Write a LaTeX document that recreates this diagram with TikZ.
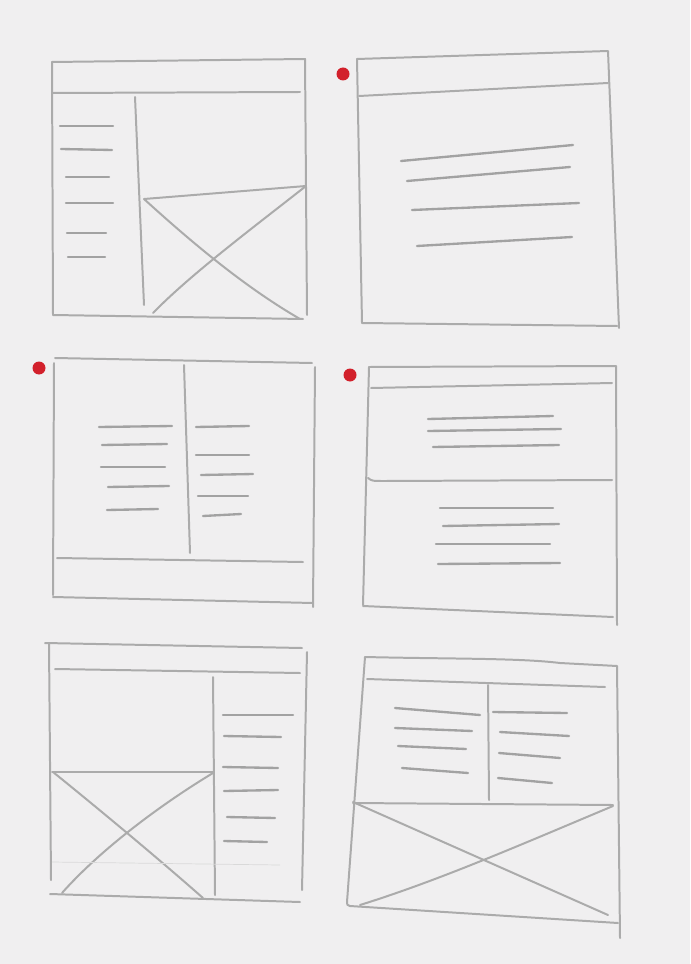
\documentclass[tikz,border=0pt]{standalone}
\usepackage{tikz}
\usetikzlibrary{calc}
\definecolor{paper}{HTML}{F0EFF0}
\definecolor{pencilgray}{HTML}{ABABAB}
\definecolor{textgray}{HTML}{A2A2A2}
\definecolor{markred}{HTML}{D2202B}
\tikzset{
  pencil/.style={draw=pencilgray, line width=1.7pt, line cap=round, line join=round},
  textline/.style={draw=textgray, line width=2pt, line cap=round},
  faint/.style={draw=pencilgray!45, line width=0.6pt},
  reddot/.style={fill=markred}
}
\begin{document}
\begin{tikzpicture}[x=0.03cm, y=-0.03cm]
% paper
\fill[paper] (0,0) rectangle (690,964);
\useasboundingbox (0,0) rectangle (690,964);

% red marks
\fill[reddot] (343,74) circle (6.5);
\fill[reddot] (39,368) circle (6.5);
\fill[reddot] (350,375) circle (6.5);

% sketch 1: header, sidebar, image
\draw[pencil] (52,62) -- (305,59) -- (307,315);
\draw[pencil] (52,62) -- (53,315) -- (303,319);
\draw[pencil] (53,93) -- (300,92);
\draw[pencil] (135,97) -- (144,305);
\draw[pencil] (144,199) -- (306,186);
\draw[pencil] (144,199) .. controls (200,250) and (250,290) .. (300,319);
\draw[pencil] (306,186) .. controls (250,230) and (190,275) .. (153,313);
\draw[textline] (60,126) -- (113,126);
\draw[textline] (61,149) -- (112,150);
\draw[textline] (66,177) -- (109,177);
\draw[textline] (66,203) -- (113,203);
\draw[textline] (67,233) -- (106,233);
\draw[textline] (68,257) -- (105,257);

% sketch 2: header, centred text
\draw[pencil] (357,59) -- (608,51) -- (619,328);
\draw[pencil] (357,59) -- (362,323) -- (617,326);
\draw[pencil] (359,96) -- (608,83);
\draw[textline] (401,161) -- (573,145);
\draw[textline] (407,181) -- (570,167);
\draw[textline] (412,210) -- (579,203);
\draw[textline] (417,246) -- (572,237);

% sketch 3: two columns, footer
\draw[pencil] (55,358) -- (312,363);
\draw[pencil] (54,363) -- (53,595);
\draw[pencil] (315,367) -- (313,607);
\draw[pencil] (53,597) -- (313,603);
\draw[pencil] (57,558) -- (303,562);
\draw[pencil] (184,365) -- (190,553);
\draw[textline] (99,427) -- (172,426);
\draw[textline] (102,445) -- (167,444);
\draw[textline] (101,467) -- (165,467);
\draw[textline] (108,487) -- (169,486);
\draw[textline] (107,510) -- (158,509);
\draw[textline] (196,427) -- (249,426);
\draw[textline] (196,455) -- (249,455);
\draw[textline] (201,475) -- (253,474);
\draw[textline] (198,496) -- (248,496);
\draw[textline] (203,516) -- (241,514);

% sketch 4: header, two stacked blocks
\draw[pencil] (369,367) -- (616,366) -- (617,625);
\draw[pencil] (369,367) -- (363,605);
\draw[pencil] (363,606) -- (613,617);
\draw[pencil] (371,388) -- (612,383);
\draw[pencil] (368,478) .. controls (372,481) .. (385,481) -- (612,480);
\draw[textline] (428,419) -- (553,416);
\draw[textline] (428,431) -- (561,429);
\draw[textline] (433,447) -- (559,445);
\draw[textline] (440,508) -- (553,508);
\draw[textline] (443,526) -- (559,524);
\draw[textline] (436,544) -- (550,544);
\draw[textline] (438,564) -- (560,563);

% sketch 5: header, image, right sidebar
\draw[pencil] (45,643) -- (302,648);
\draw[pencil] (49,643) -- (51,880);
\draw[pencil] (307,652) -- (302,890);
\draw[pencil] (50,894) -- (300,902);
\draw[pencil] (55,669) -- (300,673);
\draw[pencil] (213,677) -- (215,895);
\draw[pencil] (52,772) -- (213,772);
\draw[pencil] (53,772) .. controls (100,810) and (160,860) .. (203,898);
\draw[pencil] (213,773) .. controls (160,805) and (100,850) .. (62,893);
\draw[faint] (52,862) -- (280,865);
\draw[textline] (223,715) -- (293,715);
\draw[textline] (224,736) -- (281,737);
\draw[textline] (223,767) -- (278,768);
\draw[textline] (224,791) -- (278,790);
\draw[textline] (227,817) -- (275,818);
\draw[textline] (224,841) -- (267,842);

% sketch 6: header, two columns, wide image
\draw[pencil] (365,657) .. controls (450,659) and (520,658) .. (560,663) -- (617,666) -- (620,938);
\draw[pencil] (365,657) -- (347,902) .. controls (347,905) .. (350,906) -- (618,923);
\draw[pencil] (367,679) -- (605,687);
\draw[pencil] (488,685) -- (489,800);
\draw[pencil] (353,803) -- (613,805);
\draw[pencil] (353,802) -- (608,915);
\draw[pencil] (613,806) .. controls (520,845) and (440,880) .. (360,905);
\draw[textline] (395,708) -- (480,715);
\draw[textline] (395,728) -- (472,731);
\draw[textline] (398,746) -- (466,749);
\draw[textline] (402,768) -- (468,773);
\draw[textline] (493,712) -- (567,713);
\draw[textline] (500,732) -- (569,736);
\draw[textline] (499,753) -- (560,758);
\draw[textline] (498,778) -- (552,783);
\end{tikzpicture}
\end{document}
